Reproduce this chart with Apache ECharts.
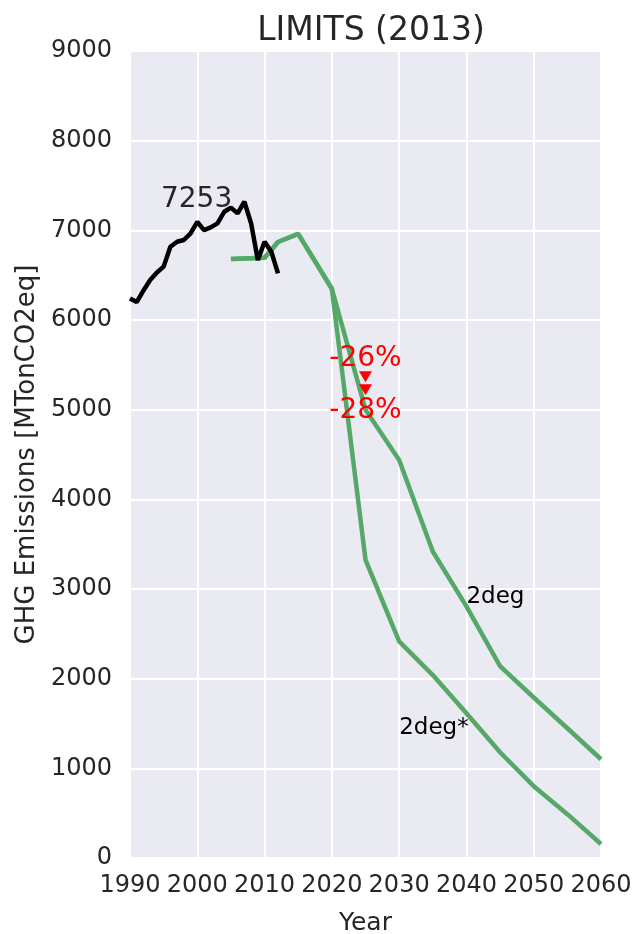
<!DOCTYPE html>
<html>
<head>
<meta charset="utf-8">
<script src="https://cdn.jsdelivr.net/npm/echarts@6/dist/echarts.min.js"></script>
<style>
  html, body { margin: 0; padding: 0; background: #ffffff; }
  #chart { width: 634px; height: 934px; }
</style>
</head>
<body>
<div id="chart"></div>
<script>
// Historical emissions, 1990-2012 (MTonCO2eq)
const histYears = [1990, 1991, 1992, 1993, 1994, 1995, 1996, 1997, 1998, 1999, 2000,
  2001, 2002, 2003, 2004, 2005, 2006, 2007, 2008, 2009, 2010, 2011, 2012];
const histValues = [6240, 6200, 6330, 6446, 6530, 6595, 6817, 6873, 6892, 6966, 7095,
  7003, 7033, 7078, 7207, 7253, 7189, 7319, 7078, 6669, 6873, 6761, 6520];

// Scenario pathways
const scenarioYears = [2005, 2010, 2012, 2015, 2020, 2025, 2030, 2035, 2040, 2045, 2050, 2055, 2060];
const twoDeg = [6680, 6695, 6870, 6960, 6348, 5000, 4438, 3418, 2807, 2139, 1790, 1447, 1101];
const twoDegStar = [6680, 6695, 6870, 6960, 6348, 3326, 2416, 2040, 1615, 1179, 801, 489, 156];

// Reference level (2005) and reduction targets for 2025
const baseYear = 2005;
const baseValue = 7253;
const targetYear = 2025;
const targetCuts = [26, 28];

// Tick labels
const xTicks = [1990, 2000, 2010, 2020, 2030, 2040, 2050, 2060];
const yTicks = [0, 1000, 2000, 3000, 4000, 5000, 6000, 7000, 8000, 9000];

const FONT = 'DejaVu Sans';
const TEXT = '#262626';
const GREEN = '#55A868';

const pair = (xs, ys) => xs.map((x, i) => [x, ys[i]]);

const targetPoints = targetCuts.map((c, i) => ({
  value: [targetYear, baseValue * (1 - c / 100)],
  label: {
    show: true,
    formatter: '-' + c + '%',
    position: i === 0 ? 'top' : 'bottom',
    distance: i === 0 ? -1 : 1,
    color: '#FF0000',
    fontFamily: FONT,
    fontSize: 28
  }
}));

const chart = echarts.init(document.getElementById('chart'), null, { renderer: 'canvas' });

chart.setOption({
  animation: false,
  backgroundColor: '#ffffff',
  title: {
    text: 'LIMITS (2013)',
    left: 366,
    textAlign: 'center',
    top: 10,
    textStyle: { fontFamily: FONT, fontSize: 33, fontWeight: 'normal', color: TEXT }
  },
  grid: {
    left: 130, top: 51, width: 471, height: 807,
    outerBoundsMode: 'none',
    show: true, backgroundColor: '#EAEAF2', borderWidth: 0
  },
  xAxis: {
    type: 'value',
    min: xTicks[0], max: xTicks[xTicks.length - 1], interval: 10,
    name: 'Year', nameLocation: 'middle', nameGap: 53,
    nameTextStyle: { fontFamily: FONT, fontSize: 25, color: TEXT },
    axisLine: { show: false }, axisTick: { show: false },
    axisLabel: { fontFamily: FONT, fontSize: 24, color: TEXT, margin: 16,
      showMinLabel: true, showMaxLabel: true, formatter: v => String(v) },
    splitLine: { show: true, lineStyle: { color: '#ffffff', width: 2 } }
  },
  yAxis: {
    type: 'value',
    min: yTicks[0], max: yTicks[yTicks.length - 1], interval: 1000,
    name: 'GHG Emissions [MTonCO2eq]', nameLocation: 'middle', nameGap: 83, nameRotate: 90,
    nameTextStyle: { fontFamily: FONT, fontSize: 26, color: TEXT },
    axisLine: { show: false }, axisTick: { show: false },
    axisLabel: { fontFamily: FONT, fontSize: 24, color: TEXT, margin: 18, formatter: v => String(v) },
    splitLine: { show: true, lineStyle: { color: '#ffffff', width: 2 } }
  },
  series: [
    {
      name: '2deg*', type: 'line', data: pair(scenarioYears, twoDegStar),
      showSymbol: false, lineStyle: { color: GREEN, width: 4.5 }, z: 3
    },
    {
      name: '2deg', type: 'line', data: pair(scenarioYears, twoDeg),
      showSymbol: false, lineStyle: { color: GREEN, width: 4.5 }, z: 3
    },
    {
      name: 'historic', type: 'line', data: pair(histYears, histValues),
      showSymbol: false, lineStyle: { color: '#000000', width: 4.5 }, z: 4
    },
    {
      name: 'targets', type: 'scatter', data: targetPoints,
      symbol: 'triangle', symbolRotate: 180, symbolSize: [13, 11],
      itemStyle: { color: '#FF0000', opacity: 1 }, z: 6
    },
    {
      name: 'annotations', type: 'scatter', symbolSize: 0, z: 7, silent: true,
      itemStyle: { opacity: 1 },
      data: [
        {
          value: [1994.6, baseValue],
          label: { show: true, formatter: String(baseValue), position: [0, 0], align: 'left',
            verticalAlign: 'bottom', offset: [0, 6], fontFamily: FONT, fontSize: 28, color: TEXT }
        },
        {
          value: [2040, 2905],
          label: { show: true, formatter: '2deg', position: [0, 0], align: 'left',
            verticalAlign: 'middle', fontFamily: FONT, fontSize: 23, color: '#000000' }
        },
        {
          value: [2030, 1445],
          label: { show: true, formatter: '2deg*', position: [0, 0], align: 'left',
            verticalAlign: 'middle', fontFamily: FONT, fontSize: 23, color: '#000000' }
        }
      ]
    }
  ]
});
</script>
</body>
</html>
